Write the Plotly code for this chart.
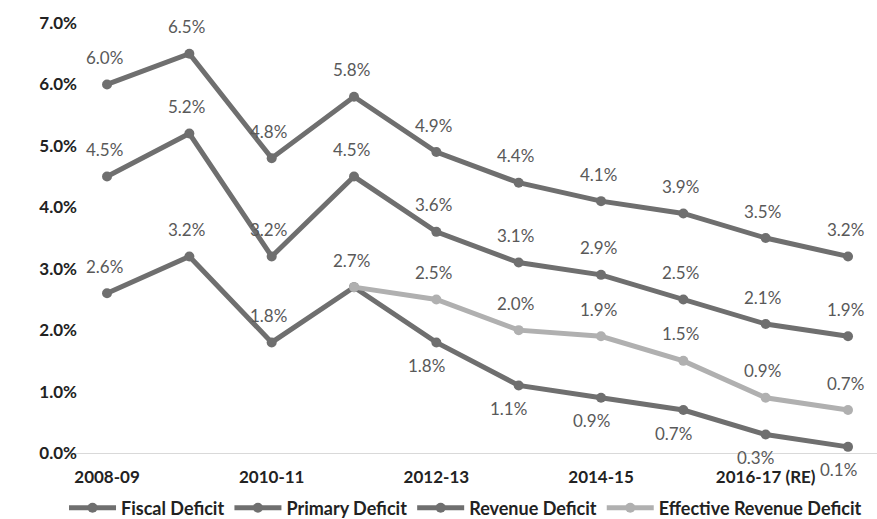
import plotly.graph_objects as go

years = ["2008-09", "2009-10", "2010-11", "2011-12", "2012-13",
         "2013-14", "2014-15", "2015-16", "2016-17 (RE)", "2017-18 (BE)"]
fiscal_deficit = [6.0, 6.5, 4.8, 5.8, 4.9, 4.4, 4.1, 3.9, 3.5, 3.2]
primary_deficit = [2.6, 3.2, 1.8, 2.7, 1.8, 1.1, 0.9, 0.7, 0.3, 0.1]
revenue_deficit = [4.5, 5.2, 3.2, 4.5, 3.6, 3.1, 2.9, 2.5, 2.1, 1.9]
effective_revenue_deficit = [None, None, None, 2.7, 2.5, 2.0, 1.9, 1.5, 0.9, 0.7]
y_ticks = [0, 1, 2, 3, 4, 5, 6, 7]

FONT = "Lato, 'Open Sans', sans-serif"
DARK = "#6f6f6f"
LIGHT = "#b0b0b0"

series = [
    ("Fiscal Deficit", fiscal_deficit, DARK),
    ("Primary Deficit", primary_deficit, DARK),
    ("Revenue Deficit", revenue_deficit, DARK),
    ("Effective Revenue Deficit", effective_revenue_deficit, LIGHT),
]

fig = go.Figure()
for name, vals, col in series:
    fig.add_trace(go.Scatter(
        x=years, y=vals, name=name, mode="lines+markers",
        line=dict(color=col, width=5),
        marker=dict(color=col, size=10, symbol="circle"),
        connectgaps=False,
    ))

annotations = []
label_font = dict(family=FONT, size=17, color="#595959")
for name, vals, col in series:
    for i, v in enumerate(vals):
        if v is None:
            continue
        # shared point with the primary deficit line: labelled once
        if name == "Effective Revenue Deficit" and v == primary_deficit[i]:
            continue
        below = name == "Primary Deficit" and i >= 4
        annotations.append(dict(
            x=years[i], y=v, text=f"{v:.1f}%", showarrow=False,
            font=label_font,
            yshift=-23 if below else 27,
            xshift=-10 if below else -3,
        ))

fig.update_layout(
    width=877, height=519,
    margin=dict(l=68, r=0, t=23, b=66, autoexpand=False),
    paper_bgcolor="white", plot_bgcolor="white",
    showlegend=True,
    legend=dict(orientation="h", x=0.073, y=0.021, xanchor="left", yanchor="middle",
                xref="container", yref="container",
                font=dict(family=FONT, size=18, color="#222222", weight="bold"),
                itemwidth=47, tracegroupgap=0),
    annotations=annotations,
    xaxis=dict(
        type="category", categoryorder="array", categoryarray=years,
        range=[-0.474, 9.352],
        tickmode="array", tickvals=years[::2], ticktext=years[::2],
        tickfont=dict(family=FONT, size=17, color="#222222", weight="bold"),
        ticklabelstandoff=9,
        showgrid=False, showline=True, linecolor="#d9d9d9", linewidth=1,
        ticks="", zeroline=False,
    ),
    yaxis=dict(
        range=[0, 7], tickmode="array", tickvals=y_ticks,
        ticktext=[f"{t:.1f}%" for t in y_ticks],
        tickfont=dict(family=FONT, size=17, color="#222222", weight="bold"),
        ticklabelstandoff=-10,
        showgrid=False, zeroline=False, showline=False, ticks="",
    ),
)

fig.write_html("out.html")
